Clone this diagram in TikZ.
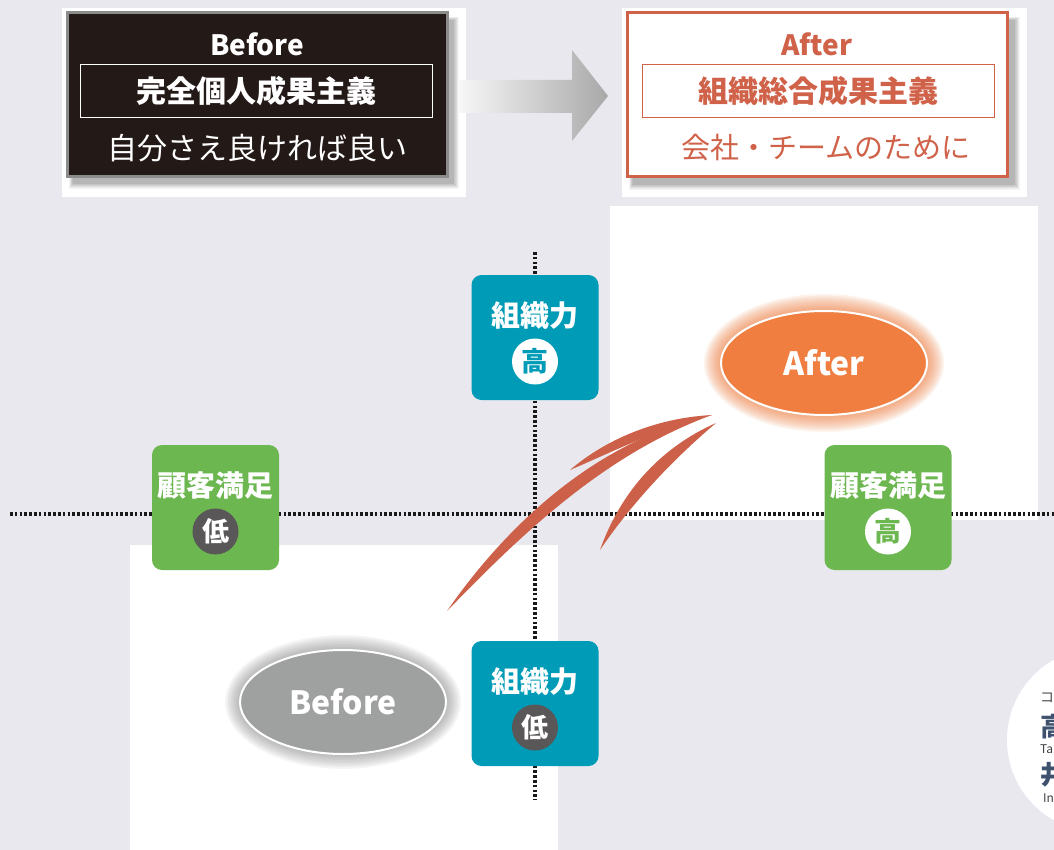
\documentclass[tikz,border=0pt]{standalone}
\usepackage{fontspec}
\setmainfont{Noto Sans CJK JP}
\usetikzlibrary{
  positioning,
  shapes.geometric
}
\definecolor{canvas}{RGB}{233,232,238}
\definecolor{boxblack}{RGB}{35,26,24}
\definecolor{boxgray}{RGB}{140,140,140}
\definecolor{rust}{RGB}{208,98,74}
\definecolor{teal}{RGB}{0,155,183}
\definecolor{leaf}{RGB}{108,183,80}
\definecolor{slate}{RGB}{89,87,87}
\definecolor{amber}{RGB}{239,126,64}
\definecolor{stone}{RGB}{159,160,160}
\definecolor{brushred}{RGB}{205,96,72}
\definecolor{ink}{RGB}{62,82,112}
\newcommand{\fsz}[1]{\fontsize{#1}{#1}\selectfont}
% axis label: name, x, y, fill, label, level fill, level text colour, level
\newcommand{\axislabel}[8]{%
  \node[axisbox, fill=#4] (#1) at (#2,#3) {};%
  \node[boxlabel] (#1-t) at ([yshift=22pt]#1.center) {#5};%
  \node[level, fill=#6, text=#7] (#1-l) at ([yshift=-24pt]#1.center) {#8};%
}
\tikzset{
  axisdots/.style={line width=3.4pt, dash pattern=on 2.6pt off 2.2pt, black!90},
  axisbox/.style={rounded corners=10pt, minimum width=127pt, minimum height=125pt, inner sep=0pt},
  boxlabel/.style={text=white, font=\fsz{29}\bfseries, inner sep=0pt},
  level/.style={circle, minimum size=46pt, inner sep=0pt, font=\fsz{27}\bfseries},
  bubble/.style={ellipse, draw=white, line width=2pt, minimum width=206pt, minimum height=104pt,
    inner sep=0pt, text=white, font=\fsz{32}\bfseries},
  headbox/.style={line width=3pt, minimum width=380pt, minimum height=164pt, inner sep=0pt},
  frame/.style={line width=1pt, minimum width=352pt, minimum height=53pt, inner sep=0pt,
    font=\fsz{30}\bfseries},
}

\begin{document}
\begin{tikzpicture}[x=1pt,y=-1pt]

  \useasboundingbox (0,0) rectangle (1054,850);
  \clip (0,0) rectangle (1054,850);
  \fill[canvas] (0,0) rectangle (1054,850);

  % white panels
  \fill[white] (62,8) rectangle (466,197);
  \fill[white] (622,8) rectangle (1027,197);
  \fill[white] (610,206) rectangle (1038,520);
  \fill[white] (130,545) rectangle (558,850);

  % soft shadows under the two heading boxes
  \foreach \k in {1,...,8} {
    \fill[black, opacity=0.04] ({73-0.5*\k},{21-0.5*\k}) rectangle ({453+0.7*\k},{183+0.7*\k});
    \fill[black, opacity=0.04] ({633-0.5*\k},{21-0.5*\k}) rectangle ({1014+0.7*\k},{184+0.7*\k});
  }

  % Before heading
  \node[headbox, draw=boxgray, fill=boxblack] (oldbox) at (257,95) {};
  \node[text=white, font=\fsz{28}\bfseries] (oldtitle) at (257,44) {Before};
  \node[frame, draw=white, text=white] (oldframe) at (256,91.5) {完全個人成果主義};
  \node[text=white, font=\fsz{30}] (oldmotto) at (257,148) {自分さえ良ければ良い};

  % After heading
  \node[headbox, draw=rust, fill=white] (newbox) at (817,95) {};
  \node[text=rust, font=\fsz{28}\bfseries] (newtitle) at (817,44) {After};
  \node[frame, draw=rust, text=rust] (newframe) at (818.5,91.5) {組織総合成果主義};
  \node[text=rust, font=\fsz{29}] (newmotto) at (826,148) {会社・チームのために};

  % grey arrow between headings
  \shade[left color=white!94!gray, right color=gray!68]
    (458,80) -- (572,80) -- (572,50) -- (608,96) -- (572,141) -- (572,113) -- (458,113) -- cycle;

  % axes
  \draw[axisdots] (10,514) -- (1054,514);
  \draw[axisdots] (535,252) -- (535,800);

  \axislabel{orghi}{535}{337.5}{teal}{組織力}{white}{teal}{高}
  \axislabel{orglo}{535}{703.5}{teal}{組織力}{slate}{white}{低}
  \axislabel{cslo}{215.5}{507.5}{leaf}{顧客満足}{slate}{white}{低}
  \axislabel{cshi}{888}{507.5}{leaf}{顧客満足}{white}{leaf}{高}

  % glow round the two states
  \foreach \k in {1,...,10} {
    \fill[amber, opacity=0.09] (824,363) ellipse ({103+1.7*\k} and {52+1.7*\k});
    \fill[black!55, opacity=0.06] (343,702) ellipse ({103+1.5*\k} and {52+1.5*\k});
  }
  \node[bubble, fill=amber] (after) at (824,363) {After};
  \node[bubble, fill=stone] (before) at (343,702) {Before};

  % brush arrow from Before to After
  \coordinate (tail) at (447,611);
  \coordinate (tip) at (712,415);
  \coordinate (tip2) at (716,423);
  \fill[brushred] (tail) .. controls (506,526) and (596,440) .. (tip)
    .. controls (602,455) and (518,538) .. (tail) -- cycle;
  \fill[brushred] (570,470) .. controls (605,440) and (655,418) .. (tip)
    .. controls (660,428) and (612,452) .. (570,470) -- cycle;
  \fill[brushred] (600,550) .. controls (622,488) and (664,446) .. (tip2)
    .. controls (684,450) and (638,494) .. (600,550) -- cycle;

  % profile badge at the right edge
  \fill[white] (1099,740) circle (92pt);
  \node[anchor=west, text=black!70, font=\fsz{14}, inner sep=0pt] (badge1) at (1040,698) {コ};
  \node[anchor=west, text=ink, font=\fsz{26}\bfseries, inner sep=0pt] (badge2) at (1040,727) {高};
  \node[anchor=west, text=black!75, font=\fsz{12}, inner sep=0pt] (badge3) at (1040,749) {Ta};
  \node[anchor=west, text=ink, font=\fsz{26}\bfseries, inner sep=0pt] (badge4) at (1040,775) {井};
  \node[anchor=west, text=black!75, font=\fsz{12}, inner sep=0pt] (badge5) at (1043,798) {In};

\end{tikzpicture}
\end{document}
